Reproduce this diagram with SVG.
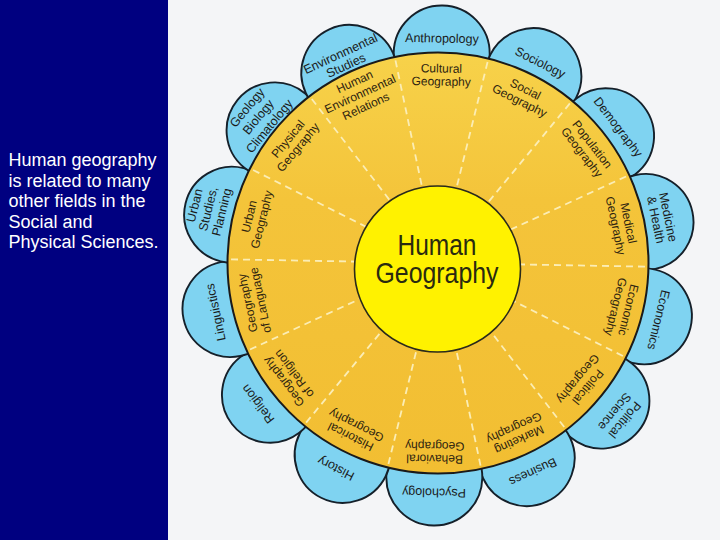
<svg xmlns="http://www.w3.org/2000/svg" width="720" height="540" viewBox="0 0 720 540">
<defs>
<style>
.petal{fill:#7FD3F1;stroke:#15202a;stroke-width:1.9}
.pt{font-family:"Liberation Sans",Arial,sans-serif;font-size:12.5px;fill:#1a1a1a;text-anchor:middle}
.rt{font-family:"Liberation Sans",Arial,sans-serif;font-size:12px;fill:#2e2410;text-anchor:middle}
.dv{stroke:#FBEDB5;stroke-width:1.8;stroke-dasharray:7 5;fill:none}
.cap{font-family:"Liberation Sans",Arial,sans-serif;font-size:18px;fill:#ffffff}
.ct{font-family:"Liberation Sans",Arial,sans-serif;font-size:30px;fill:#2a2a10;text-anchor:middle}
</style>
<linearGradient id="ringG" x1="0" y1="0" x2="0" y2="1">
<stop offset="0" stop-color="#F7D24A"/>
<stop offset="0.35" stop-color="#F4C43A"/>
<stop offset="1" stop-color="#F2BE32"/>
</linearGradient>
</defs>
<rect width="720" height="540" fill="#F4F5F7"/>
<rect width="168" height="540" fill="#000080"/>
<g id="caption">
<text class="cap" x="8.5" y="166">Human geography</text>
<text class="cap" x="8.5" y="186.5">is related to many</text>
<text class="cap" x="8.5" y="207">other fields in the</text>
<text class="cap" x="8.5" y="227.5">Social and</text>
<text class="cap" x="8.5" y="248">Physical Sciences.</text>
</g>
<g id="petals">
<g id="p-anthropology" transform="translate(438,265.5) rotate(1)"><circle class="petal" cx="0" cy="-212" r="48"/><text class="pt" x="0" y="-223">Anthropology</text></g>
<g id="p-sociology" transform="translate(438,265.5) rotate(26.714)"><circle class="petal" cx="0" cy="-212" r="48"/><text class="pt" x="0" y="-223">Sociology</text></g>
<g id="p-demography" transform="translate(438,265.5) rotate(52.429)"><circle class="petal" cx="0" cy="-212" r="48"/><text class="pt" x="0" y="-223">Demography</text></g>
<g id="p-medicine" transform="translate(438,265.5) rotate(78.143)"><circle class="petal" cx="0" cy="-212" r="48"/><text class="pt"><tspan x="0" y="-231">Medicine</tspan><tspan x="0" y="-218.5">&amp; Health</tspan></text></g>
<g id="p-economics" transform="translate(438,265.5) rotate(103.857)"><circle class="petal" cx="0" cy="-212" r="48"/><text class="pt" x="0" y="-223">Economics</text></g>
<g id="p-polsci" transform="translate(438,265.5) rotate(129.571)"><circle class="petal" cx="0" cy="-212" r="48"/><text class="pt"><tspan x="0" y="-238">Political</tspan><tspan x="0" y="-225">Science</tspan></text></g>
<g id="p-business" transform="translate(438,265.5) rotate(155.286)"><circle class="petal" cx="0" cy="-212" r="48"/><text class="pt" x="0" y="-223">Business</text></g>
<g id="p-psychology" transform="translate(438,265.5) rotate(181)"><circle class="petal" cx="0" cy="-212" r="48"/><text class="pt" x="0" y="-223">Psychology</text></g>
<g id="p-history" transform="translate(438,265.5) rotate(206.714)"><circle class="petal" cx="0" cy="-212" r="48"/><text class="pt" x="0" y="-223">History</text></g>
<g id="p-religion" transform="translate(438,265.5) rotate(232.429)"><circle class="petal" cx="0" cy="-212" r="48"/><text class="pt" x="0" y="-223">Religion</text></g>
<g id="p-linguistics" transform="translate(438,265.5) rotate(258.143)"><circle class="petal" cx="0" cy="-212" r="48"/><text class="pt" x="0" y="-223">Linguistics</text></g>
<g id="p-urban" transform="translate(438,265.5) rotate(283.857)"><circle class="petal" cx="0" cy="-212" r="48"/><text class="pt"><tspan x="0" y="-246.5">Urban</tspan><tspan x="0" y="-232.5">Studies,</tspan><tspan x="0" y="-218.5">Planning</tspan></text></g>
<g id="p-geology" transform="translate(438,265.5) rotate(309.571)"><circle class="petal" cx="0" cy="-212" r="48"/><text class="pt"><tspan x="0" y="-243.5">Geology</tspan><tspan x="0" y="-229">Biology</tspan><tspan x="0" y="-214.5">Climatology</tspan></text></g>
<g id="p-environmental" transform="translate(438,265.5) rotate(335.286)"><circle class="petal" cx="0" cy="-212" r="48"/><text class="pt"><tspan x="0" y="-229">Environmental</tspan><tspan x="0" y="-216">Studies</tspan></text></g>
</g>
<g id="ring"><circle cx="438" cy="263" r="210.5" fill="url(#ringG)" stroke="#1a1a1a" stroke-width="2"/></g>
<g id="connectors" transform="translate(438,263)">
<line class="dv" x1="0" y1="-80" x2="0" y2="-209" transform="rotate(13.857)"/>
<line class="dv" x1="0" y1="-80" x2="0" y2="-209" transform="rotate(39.571)"/>
<line class="dv" x1="0" y1="-80" x2="0" y2="-209" transform="rotate(65.286)"/>
<line class="dv" x1="0" y1="-80" x2="0" y2="-209" transform="rotate(91)"/>
<line class="dv" x1="0" y1="-80" x2="0" y2="-209" transform="rotate(116.714)"/>
<line class="dv" x1="0" y1="-80" x2="0" y2="-209" transform="rotate(142.429)"/>
<line class="dv" x1="0" y1="-80" x2="0" y2="-209" transform="rotate(168.143)"/>
<line class="dv" x1="0" y1="-80" x2="0" y2="-209" transform="rotate(193.857)"/>
<line class="dv" x1="0" y1="-80" x2="0" y2="-209" transform="rotate(219.571)"/>
<line class="dv" x1="0" y1="-80" x2="0" y2="-209" transform="rotate(245.286)"/>
<line class="dv" x1="0" y1="-80" x2="0" y2="-209" transform="rotate(271)"/>
<line class="dv" x1="0" y1="-80" x2="0" y2="-209" transform="rotate(296.714)"/>
<line class="dv" x1="0" y1="-80" x2="0" y2="-209" transform="rotate(322.429)"/>
<line class="dv" x1="0" y1="-80" x2="0" y2="-209" transform="rotate(348.143)"/>
</g>
<g id="center">
<circle cx="437.5" cy="269" r="83" fill="#FFF200" stroke="#2a2a1a" stroke-width="1.6"/>
<text class="ct" x="437" y="255" textLength="79" lengthAdjust="spacingAndGlyphs">Human</text>
<text class="ct" x="437" y="283" textLength="123" lengthAdjust="spacingAndGlyphs">Geography</text>
</g>
<g id="segments">
<g id="s-cultural" transform="translate(438,263) rotate(1)"><text class="rt"><tspan x="0" y="-190.5">Cultural</tspan><tspan x="0" y="-177.5">Geography</tspan></text></g>
<g id="s-social" transform="translate(438,263) rotate(26.714)"><text class="rt"><tspan x="0" y="-190.5">Social</tspan><tspan x="0" y="-177.5">Geography</tspan></text></g>
<g id="s-population" transform="translate(438,263) rotate(52.429)"><text class="rt"><tspan x="0" y="-190.5">Population</tspan><tspan x="0" y="-177.5">Geography</tspan></text></g>
<g id="s-medical" transform="translate(438,263) rotate(78.143)"><text class="rt"><tspan x="0" y="-190.5">Medical</tspan><tspan x="0" y="-177.5">Geography</tspan></text></g>
<g id="s-economic" transform="translate(438,263) rotate(103.857)"><text class="rt"><tspan x="0" y="-192">Economic</tspan><tspan x="0" y="-179">Geography</tspan></text></g>
<g id="s-political" transform="translate(438,263) rotate(129.571)"><text class="rt"><tspan x="0" y="-190.5">Political</tspan><tspan x="0" y="-177.5">Geography</tspan></text></g>
<g id="s-marketing" transform="translate(438,263) rotate(155.286)"><text class="rt"><tspan x="0" y="-190.5">Marketing</tspan><tspan x="0" y="-177.5">Geography</tspan></text></g>
<g id="s-behavioral" transform="translate(438,263) rotate(181)"><text class="rt"><tspan x="0" y="-192">Behavioral</tspan><tspan x="0" y="-179">Geography</tspan></text></g>
<g id="s-historical" transform="translate(438,263) rotate(206.714)"><text class="rt"><tspan x="0" y="-190.5">Historical</tspan><tspan x="0" y="-177.5">Geography</tspan></text></g>
<g id="s-religion" transform="translate(438,263) rotate(232.429)"><text class="rt"><tspan x="0" y="-190.5">Geography</tspan><tspan x="0" y="-177.5">of Religion</tspan></text></g>
<g id="s-language" transform="translate(438,263) rotate(258.143)"><text class="rt"><tspan x="0" y="-190.5">Geography</tspan><tspan x="0" y="-177.5">of Language</tspan></text></g>
<g id="s-urban" transform="translate(438,263) rotate(283.857)"><text class="rt"><tspan x="0" y="-190.5">Urban</tspan><tspan x="0" y="-177.5">Geography</tspan></text></g>
<g id="s-physical" transform="translate(438,263) rotate(309.571)"><text class="rt"><tspan x="0" y="-190.5">Physical</tspan><tspan x="0" y="-177.5">Geography</tspan></text></g>
<g id="s-her" transform="translate(438,263) rotate(335.286)"><text class="rt"><tspan x="0" y="-195.5">Human</tspan><tspan x="0" y="-182">Environmental</tspan><tspan x="0" y="-168.5">Relations</tspan></text></g>
</g>
</svg>
